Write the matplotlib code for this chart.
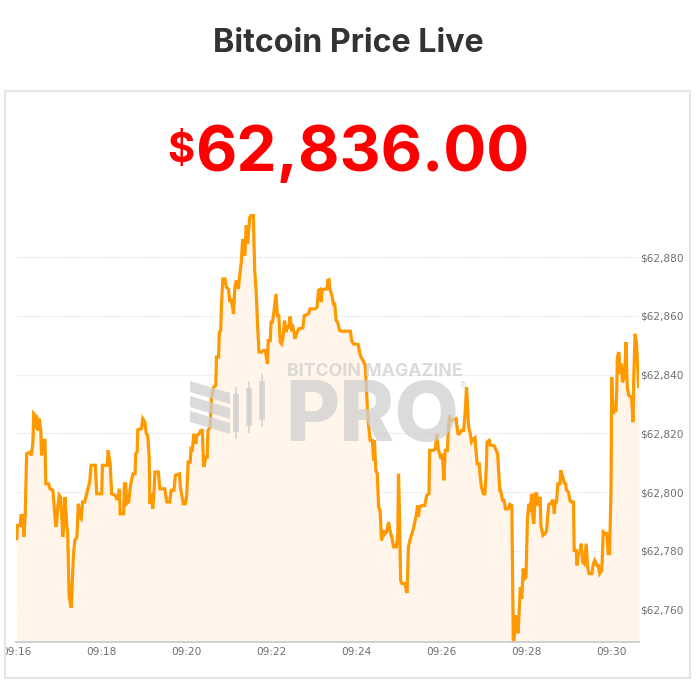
import matplotlib
matplotlib.use("Agg")
import matplotlib.pyplot as plt
import matplotlib.dates as mdates
from matplotlib.patches import Rectangle, Polygon
from matplotlib.ticker import FuncFormatter, FixedLocator
from matplotlib.transforms import Bbox, TransformedBbox
import datetime as dt

# ---------------- data ----------------
title_text = "Bitcoin Price Live"
start_time = "09:16:00"
current_price = 62836.00

seconds = [
    1, 2, 6, 7, 10, 11, 13, 15, 20, 22, 24, 25, 27, 28, 29, 31, 33, 35, 36, 38,
    41, 42, 46, 48, 52, 54, 56, 57, 59, 61, 63, 65, 66, 68, 69, 72, 73, 75, 78, 81,
    83, 86, 88, 90, 92, 94, 97, 101, 104, 106, 112, 114, 121, 122, 129, 130, 133, 135, 140, 142,
    144, 146, 147, 152, 153, 155, 156, 159,
    162, 165, 168, 169, 171, 172, 177, 179, 182, 184, 186, 188, 189, 191, 193, 195, 196, 201, 203, 210,
    213, 217, 219, 223, 225, 231, 232, 235, 236, 239, 241, 243, 246, 247, 249, 251, 254, 255, 258, 261,
    263, 265, 268, 270, 271, 274, 276, 279, 282, 283, 286, 287, 289, 290, 292, 295, 297, 300, 302, 304,
    307, 309, 311, 314, 315, 318, 320, 323, 325, 327, 328, 330,
    332, 335, 337, 339, 341, 343, 347, 349, 352, 355, 356, 359, 360, 362, 364, 367, 369, 371, 373, 375,
    377, 379, 381, 383, 385, 387, 389, 391, 392, 394, 396, 399, 405, 407, 413, 415, 422, 425, 427, 429,
    431, 432, 439, 440, 442, 443, 446, 448, 450, 452, 454, 457, 460, 472, 474, 476, 483, 485, 487, 490,
    493, 495, 497, 500,
    501, 503, 505, 506, 508, 510, 512, 514, 516, 518, 520, 521, 523, 526, 527, 529, 531, 533, 537, 539,
    540, 541, 543, 545, 549, 551, 552, 554, 556, 559, 561, 563, 565, 567, 568, 570, 573, 577, 580, 583,
    584, 589, 592, 594, 596, 600, 602, 604, 606, 609, 610, 612, 614, 621, 624, 626, 629, 632, 634, 636,
    639, 641, 643, 646, 648, 649, 651, 654, 655, 657, 660, 662, 664, 665, 668, 670, 674, 676, 680, 681,
    683,
    684, 687, 689, 691, 695, 697, 700, 702, 703, 705, 707, 709, 710, 712, 714, 716, 718, 720, 722, 724,
    726, 728, 729, 731, 733, 735, 737, 740, 741, 744, 747, 749, 752, 755, 758, 760, 761, 763, 765, 768,
    769, 772, 774, 776, 777, 780, 782, 784, 787, 788, 791, 792, 794, 796, 798, 800, 802, 805, 807, 809,
    813, 815, 817, 820, 822, 824, 827, 829, 832, 834, 836, 838, 840, 841, 843, 845, 847, 848, 849, 851,
    853, 855, 856, 858, 860, 861, 863, 865, 869, 871, 872, 874, 876, 878, 879,
]

prices = [
    62784.1, 62788.6, 62788.6, 62792.0, 62792.0, 62784.7, 62792.0, 62813.0, 62813.6, 62812.5,
    62817.6, 62826.7, 62826.1, 62821.6, 62826.1, 62821.0, 62825.0, 62821.0, 62812.5, 62817.6,
    62817.6, 62802.8, 62802.8, 62801.1, 62800.6, 62794.9, 62788.6, 62788.6, 62794.9, 62798.9,
    62798.3, 62790.3, 62784.7, 62790.3, 62798.3, 62788.1, 62785.8, 62764.2, 62760.6, 62778.4,
    62783.5, 62784.7, 62796.0, 62791.5, 62790.9, 62796.6, 62796.6, 62800.6, 62803.4, 62809.1,
    62809.1, 62799.4, 62799.4, 62809.1, 62809.1, 62814.2, 62809.6, 62799.4, 62798.9, 62797.7,
    62797.7, 62801.1, 62792.6, 62792.6, 62802.8, 62802.8, 62796.0, 62796.6,
    62802.8, 62806.2, 62806.2, 62813.0, 62813.6, 62821.2, 62821.6, 62825.0, 62823.8, 62819.8,
    62819.3, 62811.9, 62796.0, 62799.4, 62794.3, 62800.6, 62806.8, 62806.8, 62801.1, 62801.1,
    62796.6, 62796.6, 62800.6, 62800.6, 62805.7, 62806.2, 62801.7, 62797.7, 62796.0, 62796.0,
    62798.9, 62810.2, 62810.2, 62814.7, 62814.4, 62819.8, 62816.4, 62819.3, 62819.8, 62821.0,
    62821.0, 62808.5, 62811.9, 62811.9, 62821.0, 62822.1, 62832.3, 62835.7, 62836.3, 62846.0,
    62846.0, 62854.5, 62855.0, 62863.5, 62872.6, 62872.6, 62869.8, 62869.2, 62864.7, 62865.8,
    62860.7, 62869.8, 62872.1, 62869.2, 62872.1, 62878.3, 62886.2, 62880.6, 62890.8, 62884.5,
    62887.9, 62893.6,
    62894.2, 62894.2, 62875.5, 62868.7, 62857.3, 62847.7, 62847.7, 62848.2, 62848.2, 62843.7,
    62851.6, 62851.6, 62857.9, 62857.9, 62861.3, 62867.5, 62860.1, 62860.1, 62851.1, 62850.5,
    62852.8, 62858.4, 62854.5, 62856.2, 62856.2, 62859.8, 62855.6, 62856.2, 62855.0, 62852.2,
    62853.9, 62855.6, 62855.9, 62860.1, 62860.7, 62862.4, 62862.4, 62863.0, 62868.7, 62869.0,
    62864.7, 62869.0, 62869.2, 62872.1, 62872.3, 62869.2, 62867.0, 62864.1, 62864.1, 62858.4,
    62857.9, 62855.0, 62854.8, 62854.8, 62851.6, 62850.5, 62850.3, 62847.7, 62846.0, 62844.8,
    62843.1, 62833.5, 62824.4, 62817.6,
    62817.6, 62817.6, 62810.8, 62817.6, 62807.4, 62806.2, 62794.9, 62793.7, 62783.5, 62785.8,
    62786.9, 62785.8, 62786.4, 62789.8, 62788.1, 62785.8, 62784.1, 62781.3, 62781.3, 62785.8,
    62806.2, 62797.1, 62769.9, 62768.8, 62768.8, 62766.5, 62765.6, 62781.3, 62783.5, 62785.8,
    62787.5, 62789.8, 62792.0, 62795.4, 62791.5, 62794.9, 62795.4, 62795.4, 62798.9, 62799.4,
    62814.2, 62814.2, 62814.7, 62819.8, 62814.7, 62811.3, 62813.0, 62804.0, 62814.2, 62814.2,
    62819.8, 62826.1, 62824.4, 62825.0, 62819.8, 62819.8, 62821.0, 62821.0, 62826.7, 62835.7,
    62822.1, 62820.4, 62817.0, 62818.1, 62818.5, 62815.3, 62809.6, 62809.6, 62806.2, 62801.7,
    62799.4, 62799.4, 62808.5, 62817.0, 62817.6, 62815.9, 62815.9, 62815.3, 62813.0, 62808.5,
    62800.6,
    62800.6, 62797.1, 62797.1, 62794.3, 62794.3, 62795.8, 62795.4, 62749.5, 62749.5, 62758.0,
    62752.3, 62752.3, 62758.0, 62767.6, 62763.7, 62773.9, 62770.5, 62771.0, 62790.9, 62796.0,
    62793.2, 62799.4, 62792.6, 62789.2, 62799.4, 62799.4, 62795.4, 62798.3, 62788.6, 62785.2,
    62785.8, 62786.9, 62795.8, 62796.0, 62797.4, 62792.6, 62796.6, 62796.6, 62802.8, 62802.8,
    62807.4, 62805.1, 62803.1, 62802.8, 62800.6, 62800.0, 62797.1, 62796.6, 62796.6, 62780.1,
    62780.1, 62775.0, 62779.0, 62779.6, 62782.4, 62776.2, 62775.6, 62782.4, 62774.4, 62772.2,
    62772.2, 62775.6, 62776.7, 62775.0, 62775.0, 62772.2, 62773.3, 62786.4, 62785.8, 62785.8,
    62779.0, 62779.0, 62801.7, 62839.1, 62826.7, 62827.8, 62827.8, 62834.6, 62846.0, 62847.7,
    62840.3, 62843.7, 62837.4, 62838.6, 62842.5, 62851.1, 62835.7, 62832.9, 62832.3, 62823.8,
    62838.0, 62853.9, 62850.5, 62840.3, 62836.0,
]

y_ticks = [62760, 62780, 62800, 62820, 62840, 62860, 62880]
x_tick_labels = ["09:16", "09:18", "09:20", "09:22", "09:24", "09:26", "09:28", "09:30"]
y_range = (62749, 62898)
x_span_seconds = 879.5

assert len(seconds) == len(prices)

# ---------------- figure ----------------
W, H = 696, 685
fig = plt.figure(figsize=(W / 100, H / 100), dpi=100)
fig.patch.set_facecolor("white")

def fx(x):
    return x / W

def fy(y):
    return 1 - y / H

base = dt.datetime.strptime("2024-01-01 " + start_time, "%Y-%m-%d %H:%M:%S")
times = [base + dt.timedelta(seconds=s) for s in seconds]

FONT = ["Inter", "DejaVu Sans"]

# outer card border
fig.patches.append(Rectangle((fx(5), fy(678)), fx(690) - fx(5), fy(91) - fy(678),
                             transform=fig.transFigure, fill=False,
                             edgecolor="#e6e6e6", linewidth=1.6, zorder=0))

# title
fig.text(fx(348), fy(51.5), title_text, ha="center", va="baseline",
         fontsize=23.2, fontweight="bold", color="#333333", family=FONT)

# price (digits + smaller dollar sign), centred as a block
renderer = fig.canvas.get_renderer()
price_str = f"{current_price:,.2f}"
t_num = fig.text(0, fy(171), price_str, ha="left", va="baseline",
                 fontsize=46, fontweight="bold", color="#ff0000", family=FONT)
t_dol = fig.text(0, fy(162), "$", ha="left", va="baseline",
                 fontsize=30, fontweight="bold", color="#ff0000", family=FONT)
w_num = t_num.get_window_extent(renderer).width
w_dol = t_dol.get_window_extent(renderer).width
gap = 1.0
left = 348 - (w_num + w_dol + gap) / 2
t_dol.set_x(fx(left))
t_num.set_x(fx(left + w_dol + gap))

# axes
ax = fig.add_axes([fx(16), fy(641.7), fx(639) - fx(16), fy(204.4) - fy(641.7)])
ax.set_facecolor("none")
t0 = mdates.date2num(base)
t1 = mdates.date2num(base + dt.timedelta(seconds=x_span_seconds))
ax.set_xlim(t0, t1)
ax.set_ylim(*y_range)

ax.fill_between(times, prices, y_range[0], color="#fff5ea", linewidth=0, zorder=1)
ax.plot(times, prices, color="#ff9900", linewidth=2.3, solid_joinstyle="miter", zorder=4)

# grid
ax.yaxis.set_major_locator(FixedLocator(y_ticks))
ax.grid(axis="y", color="#e2e2e2", linestyle=(0, (1, 1)), linewidth=0.9, zorder=0)
ax.set_axisbelow(True)

xt = [mdates.date2num(dt.datetime.strptime("2024-01-01 " + l, "%Y-%m-%d %H:%M")) for l in x_tick_labels]
ax.set_xticks(xt)
ax.set_xticklabels(x_tick_labels)

ax.yaxis.tick_right()
ax.yaxis.set_major_formatter(FuncFormatter(lambda v, p: f"${v:,.0f}"))
ax.tick_params(axis="y", length=0, pad=1, labelsize=7.6, labelcolor="#6e6e6e")
ax.tick_params(axis="x", length=0, pad=4, labelsize=7.6, labelcolor="#6e6e6e")

clip = TransformedBbox(Bbox([[fx(3.5), 0], [1, 1]]), fig.transFigure)
for lbl in ax.get_xticklabels():
    lbl.set_clip_box(clip)
    lbl.set_clip_on(True)

for s in ["top", "left", "right"]:
    ax.spines[s].set_visible(False)
ax.spines["bottom"].set_color("#cccccc")
ax.spines["bottom"].set_linewidth(1.3)
ax.spines["bottom"].set_zorder(5)

# watermark
wm_color = "#cfcfcf"
wm_alpha = 0.75
fig.text(fx(287), fy(376.5), "BITCOIN MAGAZINE", ha="left", va="baseline",
         fontsize=12.8, fontweight="bold", color=wm_color, alpha=wm_alpha,
         family=FONT, zorder=3)
fig.text(fx(285), fy(440.5), "PRO", ha="left", va="baseline",
         fontsize=60, fontweight="heavy", color=wm_color, alpha=wm_alpha,
         family=FONT, zorder=3)
fig.text(fx(463), fy(386), "®", ha="center", va="center",
         fontsize=6, color=wm_color, alpha=wm_alpha, zorder=3)
for i in range(3):
    yy = 381 + 15 * i
    poly = [(fx(190), fy(yy)), (fx(230), fy(yy + 12)), (fx(230), fy(yy + 23)), (fx(190), fy(yy + 11))]
    fig.patches.append(Polygon(poly, closed=True, transform=fig.transFigure,
                               facecolor=wm_color, edgecolor="none", alpha=wm_alpha, zorder=3))
for cx, top, bot in [(236, 394, 432), (249, 388, 426), (262, 381, 420)]:
    fig.patches.append(Rectangle((fx(cx - 3), fy(bot)), fx(6), fy(top) - fy(bot),
                                 transform=fig.transFigure, facecolor=wm_color,
                                 edgecolor="none", alpha=wm_alpha, zorder=3))
    fig.patches.append(Rectangle((fx(cx - 0.6), fy(bot + 7)), fx(1.2), fy(top - 7) - fy(bot + 7),
                                 transform=fig.transFigure, facecolor=wm_color,
                                 edgecolor="none", alpha=wm_alpha, zorder=3))

fig.savefig("out.png", dpi=100, facecolor="white")
